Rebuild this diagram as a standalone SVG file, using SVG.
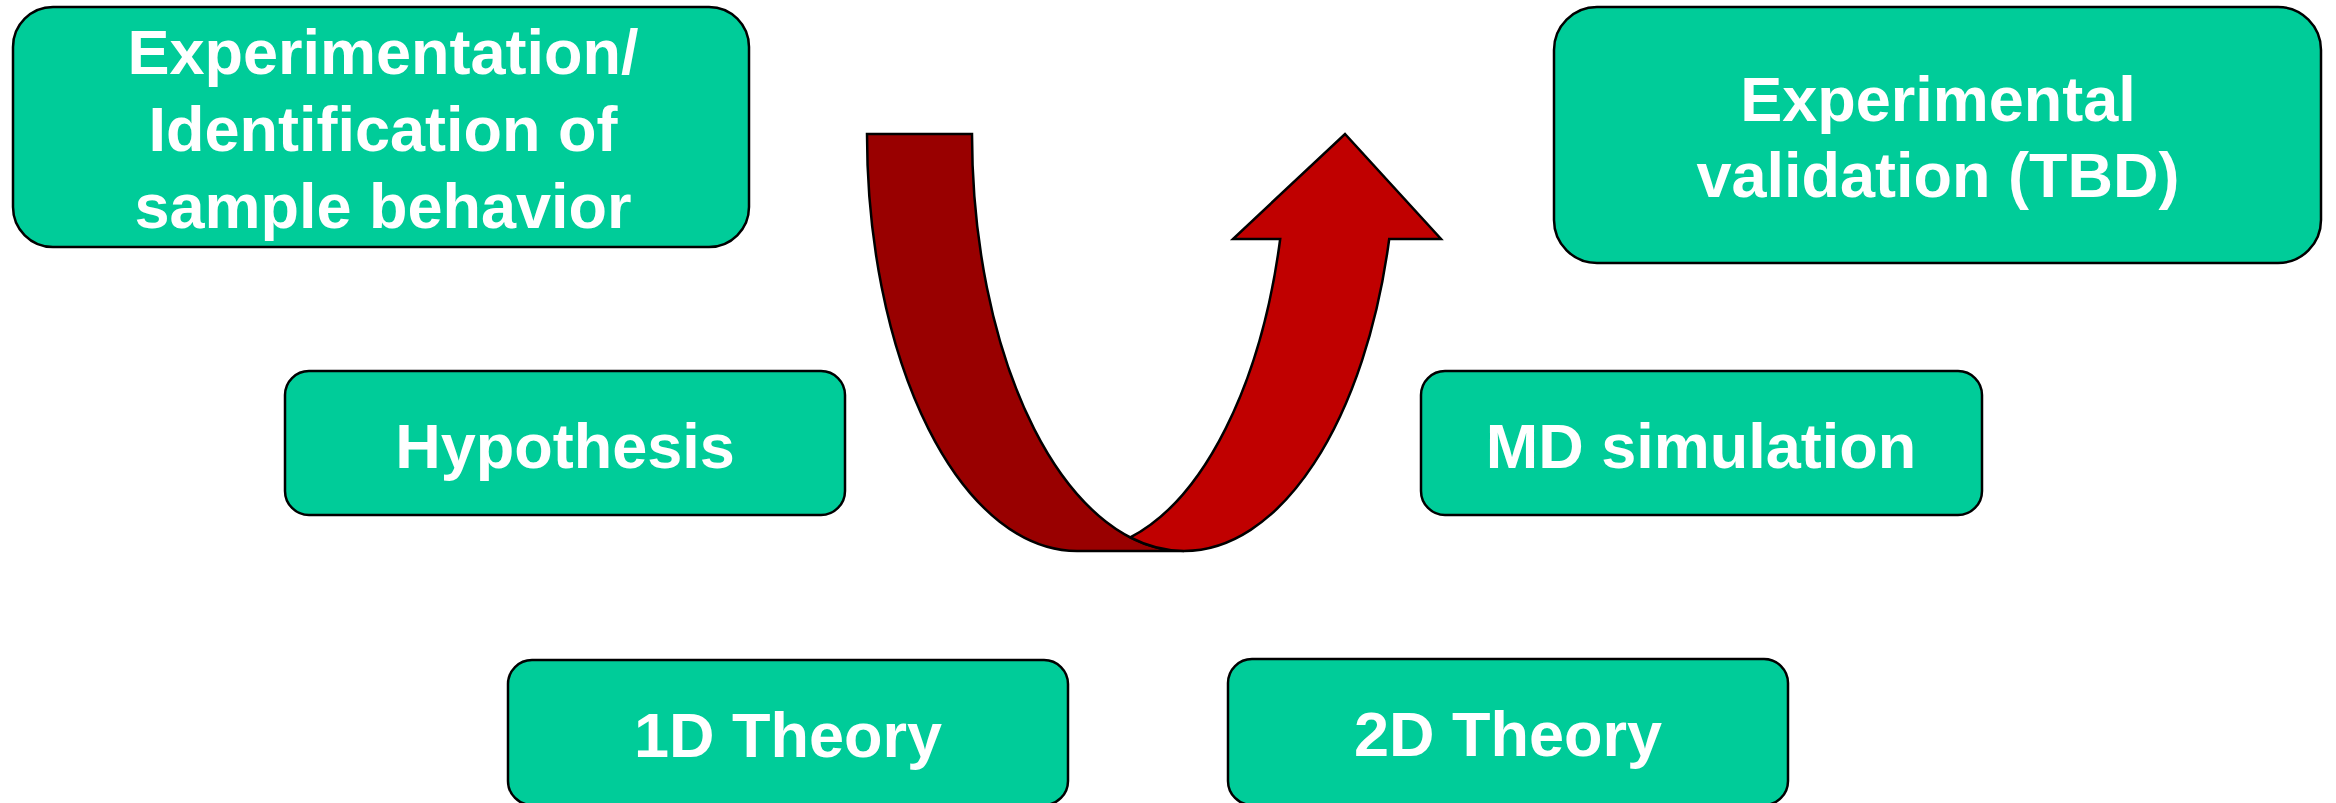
<svg xmlns="http://www.w3.org/2000/svg" width="2336" height="803" viewBox="0 0 2336 803">
<style>
.box{fill:#00CC99;stroke:#000;stroke-width:2.5}
.t{fill:#fff;font-family:"Liberation Sans",Arial,sans-serif;font-weight:bold;font-size:63px;text-anchor:middle}
.back{fill:#990000;stroke:#000;stroke-width:2.5;stroke-linejoin:miter}
.front{fill:#C00000;stroke:#000;stroke-width:2.5;stroke-linejoin:miter}
</style>
<rect width="2336" height="803" fill="#fff"/>
<g id="connectors">
<path class="back" d="M 867 134 A 210 417 0 0 0 1077 551 L 1184 551 A 212 417 0 0 1 972 134 Z"/>
<path class="front" d="M 1130.3 537.4 A 212 417 0 0 0 1184 551 A 212 417 0 0 0 1389.2 239 L 1441 239 L 1345 134 L 1233 239 L 1280.2 239 A 210 417 0 0 1 1130.3 537.4 Z"/>
</g>
<g id="experimentation">
<rect class="box" x="13" y="7" width="736" height="240" rx="40" ry="40"/>
<text class="t" x="383" y="74">Experimentation/</text>
<text class="t" x="383" y="151">Identification of</text>
<text class="t" x="383" y="228">sample behavior</text>
</g>
<g id="validation">
<rect class="box" x="1554" y="7" width="767" height="256" rx="43" ry="43"/>
<text class="t" x="1938" y="121">Experimental</text>
<text class="t" x="1938" y="197">validation (TBD)</text>
</g>
<g id="hypothesis">
<rect class="box" x="285" y="371" width="560" height="144" rx="24" ry="24"/>
<text class="t" x="565" y="468">Hypothesis</text>
</g>
<g id="md">
<rect class="box" x="1421" y="371" width="561" height="144" rx="24" ry="24"/>
<text class="t" x="1701" y="468">MD simulation</text>
</g>
<g id="theory1d">
<rect class="box" x="508" y="660" width="560" height="145" rx="24" ry="24"/>
<text class="t" x="788" y="757">1D Theory</text>
</g>
<g id="theory2d">
<rect class="box" x="1228" y="659" width="560" height="146" rx="24" ry="24"/>
<text class="t" x="1508" y="756">2D Theory</text>
</g>
</svg>
